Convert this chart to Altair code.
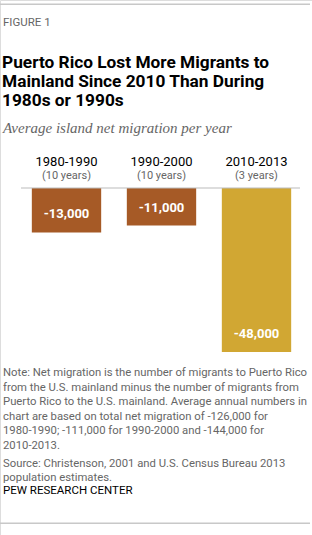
import altair as alt
import pandas as pd

periods = ["1980-1990", "1990-2000", "2010-2013"]
spans = ["(10 years)", "(10 years)", "(3 years)"]
values = [-13000, -11000, -48000]
labels = ["-13,000", "-11,000", "-48,000"]
colors = ["#A65A26", "#A65A26", "#D1A733"]

df = pd.DataFrame({"period": periods, "span": spans, "value": values,
                   "label": labels, "color": colors})

FONT = "Roboto"
W, H = 312, 535

xscale = alt.Scale(domain=periods, range=[19, 304], paddingInner=0.27, paddingOuter=0.135)
yscale = alt.Scale(domain=[0, -48000], range=[188, 352])
X = alt.X("period:N", scale=xscale, axis=None, sort=periods)

base = alt.Chart(df)

bars = base.mark_bar(stroke=None).encode(
    x=X,
    y=alt.Y("value:Q", scale=yscale, axis=None),
    y2=alt.datum(0),
    color=alt.Color("color:N", scale=None, legend=None),
)

bar_labels = base.mark_text(font=FONT, fontSize=13, fontWeight="bold", color="white",
                            baseline="middle", dy=-18).encode(
    x=X, y=alt.Y("value:Q", scale=yscale), text="label:N")

cat1 = base.mark_text(font=FONT, fontSize=13, color="#000000", baseline="middle").encode(
    x=X, y=alt.value(162), text="period:N")
cat2 = base.mark_text(font=FONT, fontSize=11, color="#666666", baseline="middle").encode(
    x=X, y=alt.value(176), text="span:N")

one = pd.DataFrame({"k": [0]})
ann = alt.Chart(one)

def hline(x0, x1, y, color, th):
    return ann.mark_rect(color=color).encode(
        x=alt.value(x0), x2=alt.value(x1), y=alt.value(y), y2=alt.value(y + th))

top_line = hline(0, 310, 3.5, "#c8c8c8", 1.5)
bottom_line = hline(0, 310, 522.5, "#c8c8c8", 1.5)
baseline_rule = hline(21, 300, 187.5, "#bbbbbb", 1)

fig = ann.mark_text(font=FONT, fontSize=11.5, color="#666666", align="left", baseline="middle").encode(
    x=alt.value(3), y=alt.value(23), text=alt.value("FIGURE 1"))

title = ann.mark_text(font=FONT, fontSize=17.3, fontWeight="bold", color="#000000",
                      align="left", baseline="middle", lineHeight=18.8).encode(
    x=alt.value(2), y=alt.value(63),
    text=alt.value(["Puerto Rico Lost More Migrants to",
                    "Mainland Since 2010 Than During",
                    "1980s or 1990s"]))

subtitle = ann.mark_text(font="Liberation Serif", fontSize=15, fontStyle="italic", color="#666666",
                         align="left", baseline="middle").encode(
    x=alt.value(3), y=alt.value(128),
    text=alt.value("Average island net migration per year"))

note = ann.mark_text(font=FONT, fontSize=11.3, color="#666666", align="left",
                     baseline="middle", lineHeight=14.6).encode(
    x=alt.value(3), y=alt.value(373),
    text=alt.value(["Note: Net migration is the number of migrants to Puerto Rico",
                    "from the U.S. mainland minus the number of migrants from",
                    "Puerto Rico to the U.S. mainland. Average annual numbers in",
                    "chart are based on total net migration of -126,000 for",
                    "1980-1990; -111,000 for 1990-2000 and -144,000 for",
                    "2010-2013."]))

source = ann.mark_text(font=FONT, fontSize=11.3, color="#666666", align="left",
                       baseline="middle", lineHeight=14).encode(
    x=alt.value(3), y=alt.value(464),
    text=alt.value(["Source: Christenson, 2001 and U.S. Census Bureau 2013",
                    "population estimates."]))

pew = ann.mark_text(font=FONT, fontSize=11.5, color="#000000", align="left",
                    baseline="middle").encode(
    x=alt.value(3), y=alt.value(491), text=alt.value("PEW RESEARCH CENTER"))

chart = alt.layer(
    bars, baseline_rule, bar_labels, cat1, cat2,
    top_line, bottom_line, fig, title, subtitle, note, source, pew
).properties(
    width=W, height=H, autosize=alt.AutoSizeParams(type="none"), padding=0
).configure_view(stroke=None).configure(background="white")

chart.save("out.html", embed_options={"renderer": "svg", "actions": False})
